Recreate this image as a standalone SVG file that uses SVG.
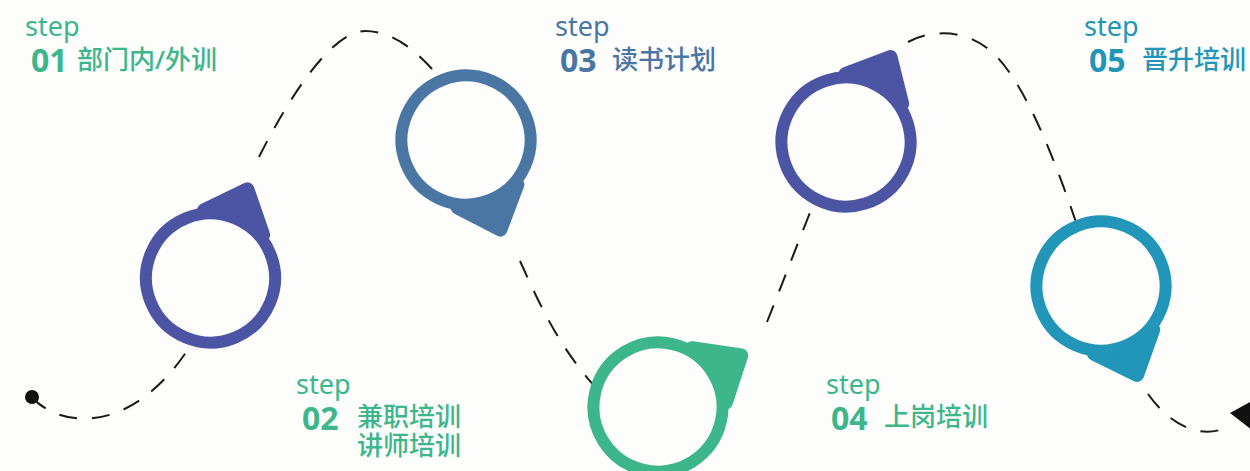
<svg xmlns="http://www.w3.org/2000/svg" width="1250" height="471" viewBox="0 0 1250 471">
<style>
.bg{fill:#fdfdfb}
.ring{fill:#fdfdfb;stroke-width:12}
.tip{stroke-width:14;stroke-linejoin:round}
.indigo .ring{stroke:#4b55a3}.indigo .tip{fill:#4b55a3;stroke:#4b55a3}
.slate .ring{stroke:#4a76a4}.slate .tip{fill:#4a76a4;stroke:#4a76a4}
.green .ring{stroke:#3db68c}.green .tip{fill:#3db68c;stroke:#3db68c}
.teal .ring{stroke:#2196b8}.teal .tip{fill:#2196b8;stroke:#2196b8}
.dash{fill:none;stroke:#1a1a1a;stroke-width:2;stroke-dasharray:18 15}
.step{font-family:"Noto Sans","Open Sans",sans-serif;font-size:27px}
.num{font-family:"Noto Sans","Open Sans",sans-serif;font-size:32px;font-weight:bold}
.cn{font-family:"Noto Sans","Noto Sans CJK SC",sans-serif;font-size:26px;font-weight:500}
.tg{fill:#3db68c}.ts{fill:#4a76a4}.tt{fill:#2196b8}
</style>
<rect class="bg" x="0" y="0" width="1250" height="471"/>
<g id="connectors">
<circle cx="32" cy="397" r="7" fill="#111"/>
<path class="dash" d="M32,397 C55,425 135,445 200,330 M259,157 C285,105 330,31 365,31 C395,31 425,55 452,95 M520,261 C540,305 560,350 600,392 M767,322 C778,295 795,250 815,200 M908,42 C930,30 965,28 992,52 C1025,82 1055,160 1078,228 M1148,394 C1170,425 1200,440 1228,427"/>
<polygon points="1230,413 1252,401 1252,430" fill="#111"/>
</g>
<g id="pin1" class="indigo" transform="translate(210.5,278) rotate(-67.4)">
<polygon class="tip" points="60,-32 60,32 96,0"/>
<circle class="ring" r="64.5"/>
</g>
<g id="pin3" class="slate" transform="translate(466,140) rotate(69)">
<polygon class="tip" points="60,-32 60,32 96,0"/>
<circle class="ring" r="64.5"/>
</g>
<g id="pin4" class="green" transform="translate(658,407) rotate(-31.8)">
<polygon class="tip" points="60,-32 60,32 98,0"/>
<circle class="ring" r="64.5"/>
</g>
<g id="pin5" class="indigo" transform="translate(846,142) rotate(-62.4)">
<polygon class="tip" points="60,-32 60,32 96,0"/>
<circle class="ring" r="64.5"/>
</g>
<g id="pin6" class="teal" transform="translate(1101,286) rotate(67.9)">
<polygon class="tip" points="60,-32 60,32 96,0"/>
<circle class="ring" r="64.5"/>
</g>
<g id="label1">
<text class="step tg" x="25" y="36">step</text>
<text class="num tg" x="31" y="72">01</text>
<text class="cn tg" x="77" y="69">部门内/外训</text>
</g>
<g id="label2">
<text class="step tg" x="296" y="394">step</text>
<text class="num tg" x="302" y="430">02</text>
<text class="cn tg" x="357" y="426">兼职培训</text>
<text class="cn tg" x="357" y="455">讲师培训</text>
</g>
<g id="label3">
<text class="step ts" x="555" y="36">step</text>
<text class="num ts" x="560" y="72">03</text>
<text class="cn ts" x="612" y="69">读书计划</text>
</g>
<g id="label4">
<text class="step tg" x="826" y="394">step</text>
<text class="num tg" x="831" y="430">04</text>
<text class="cn tg" x="884" y="426">上岗培训</text>
</g>
<g id="label5">
<text class="step tt" x="1084" y="36">step</text>
<text class="num tt" x="1089" y="72">05</text>
<text class="cn tt" x="1142" y="69">晋升培训</text>
</g>
</svg>
